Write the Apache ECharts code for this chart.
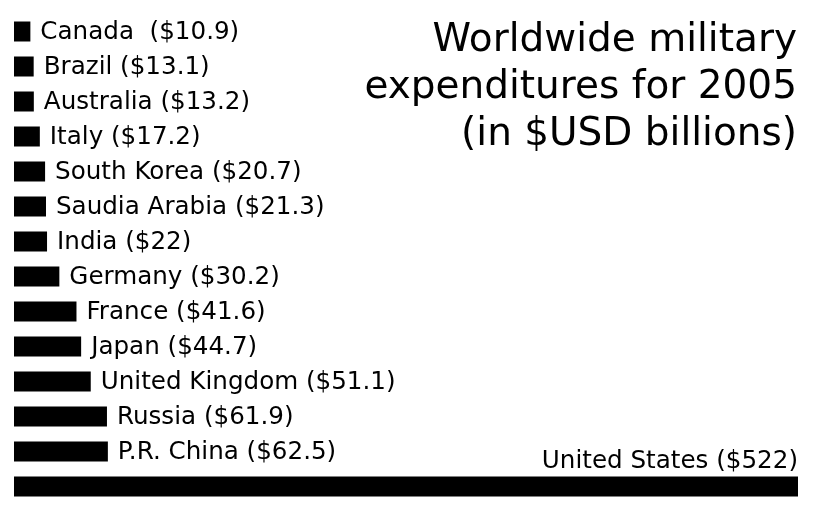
<!DOCTYPE html>
<html>
<head>
<meta charset="utf-8">
<script src="https://cdn.jsdelivr.net/npm/echarts@6/dist/echarts.min.js"></script>
<style>
  html, body { margin: 0; padding: 0; background: #fff; }
  #chart { width: 815px; height: 512px; }
</style>
</head>
<body>
<div id="chart"></div>
<script>
// Military spending in 2005, billions of US dollars (top to bottom)
var countries = [
  'Canada ', 'Brazil', 'Australia', 'Italy', 'South Korea', 'Saudia Arabia',
  'India', 'Germany', 'France', 'Japan', 'United Kingdom', 'Russia',
  'P.R. China', 'United States'
];
var spending = [10.9, 13.1, 13.2, 17.2, 20.7, 21.3, 22, 30.2, 41.6, 44.7, 51.1, 61.9, 62.5, 522];
var titleLines = ['Worldwide military', 'expenditures for 2005', '(in $USD billions)'];

var FONT = 'DejaVu Sans';

var barData = spending.map(function (v, i) {
  var item = { value: v };
  if (i === spending.length - 1) {
    // the largest bar carries its label above its right end
    item.label = {
      position: ['100%', '0%'],
      align: 'right',
      verticalAlign: 'middle',
      offset: [0, -15]
    };
  }
  return item;
});

var chart = echarts.init(document.getElementById('chart'), null, { renderer: 'canvas' });
chart.setOption({
  animation: false,
  backgroundColor: '#ffffff',
  title: {
    text: titleLines.join('\n'),
    left: 797,
    top: 17,
    padding: 0,
    textAlign: 'right',
    textStyle: {
      fontFamily: FONT,
      fontSize: 39,
      fontWeight: 'normal',
      color: '#000',
      lineHeight: 47
    }
  },
  grid: { left: 14, right: 17, top: 14, bottom: 8, containLabel: false },
  xAxis: {
    type: 'value', min: 0, max: 522,
    show: false, splitLine: { show: false }
  },
  yAxis: {
    type: 'category', data: countries, inverse: true,
    show: false
  },
  series: [{
    type: 'bar',
    data: barData,
    barWidth: 20,
    itemStyle: { color: '#000' },
    label: {
      show: true,
      position: 'right',
      distance: 10,
      offset: [0, 1],
      fontFamily: FONT,
      fontSize: 24.6,
      color: '#000',
      formatter: function (p) {
        return p.name + ' ($' + p.value + ')';
      }
    }
  }]
});
</script>
</body>
</html>
